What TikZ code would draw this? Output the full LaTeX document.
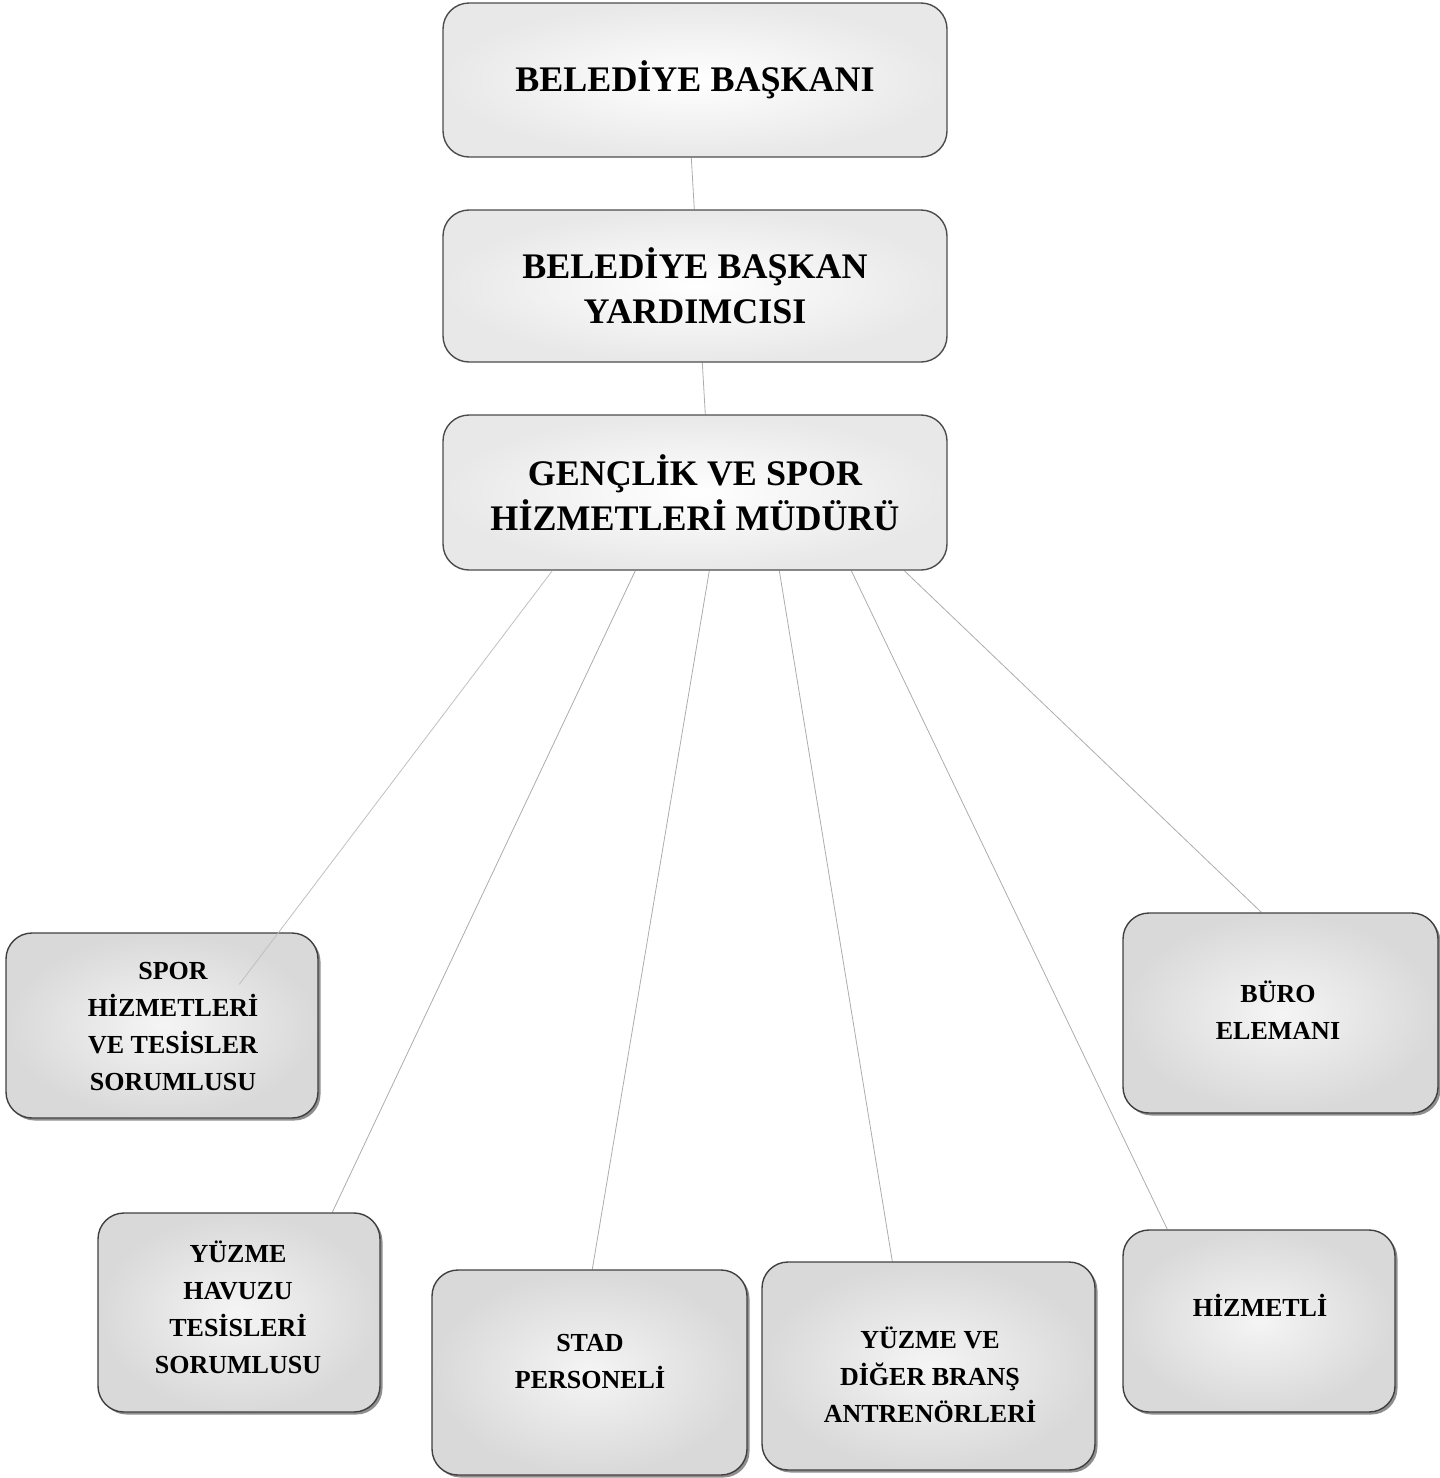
\documentclass[tikz,border=0pt]{standalone}
\usepackage{fontspec}
\setmainfont{Liberation Serif}
\usetikzlibrary{calc,shadows,backgrounds}
\begin{document}
\begin{tikzpicture}[x=1pt,y=-1pt,
  topbox/.style={draw=black!70, line width=1.4pt, rounded corners=26pt, inner color=white, outer color=gray!18, align=center, font=\fontsize{36}{45}\selectfont\bfseries},
  subbox/.style={draw=black!75, line width=1.4pt, rounded corners=26pt, inner color=gray!8, outer color=gray!30, align=center, font=\fontsize{26}{37}\selectfont\bfseries, drop shadow={shadow xshift=2.5pt, shadow yshift=-2.5pt, fill=black!55, opacity=0.8}},
  txt/.style={align=center, font=\fontsize{26}{37}\selectfont\bfseries, inner sep=0pt},
  conn/.style={draw=gray!65, line width=0.8pt}]
\useasboundingbox (0,0) rectangle (1440,1478);

\node[topbox, minimum width=504pt, minimum height=154pt] (bb) at (695,80) {BELEDİYE BAŞKANI};
\node[topbox, minimum width=504pt, minimum height=152pt] (by) at (695,286) {BELEDİYE BAŞKAN\\YARDIMCISI};
\node[topbox, minimum width=504pt, minimum height=155pt] (gs) at (695,492.5) {GENÇLİK VE SPOR\\HİZMETLERİ MÜDÜRÜ};

\node[subbox, minimum width=312pt, minimum height=185pt] (spor) at (162,1025.5) {};
\node[txt] (sport) at (173,1027) {SPOR\\HİZMETLERİ\\VE TESİSLER\\SORUMLUSU};

\node[subbox, minimum width=282pt, minimum height=199pt] (havuz) at (239,1312.5) {};
\node[txt] (havuzt) at (238,1307) {YÜZME\\HAVUZU\\TESİSLERİ\\SORUMLUSU};

\node[subbox, minimum width=315pt, minimum height=205pt] (stad) at (589.5,1372.5) {};
\node[txt] (stadt) at (590,1362) {STAD\\PERSONELİ};

\node[subbox, minimum width=333pt, minimum height=208pt] (antr) at (928.5,1366) {};
\node[txt] (antrt) at (930,1375) {YÜZME VE\\DİĞER BRANŞ\\ANTRENÖRLERİ};

\node[subbox, minimum width=272pt, minimum height=182pt] (hiz) at (1259,1321) {};
\node[txt] (hizt) at (1260,1305) {HİZMETLİ};

\node[subbox, minimum width=315pt, minimum height=200pt] (buro) at (1280.5,1013) {};
\node[txt] (burot) at (1278,1010) {BÜRO\\ELEMANI};

\begin{scope}[on background layer]
\draw[conn] ($(bb.south west)+(249,0)$) -- ($(by.north west)+(252,0)$);
\draw[conn] ($(by.south west)+(260,0)$) -- ($(gs.north west)+(263,0)$);
\draw[conn] ($(gs.south west)+(193,0)$) -- ($(havuz.north west)+(235,0)$);
\draw[conn] ($(gs.south west)+(267,0)$) -- ($(stad.north west)+(161,0)$);
\draw[conn] ($(gs.south west)+(337,0)$) -- ($(antr.north west)+(131,0)$);
\draw[conn] ($(gs.south west)+(409,0)$) -- ($(hiz.north west)+(45,0)$);
\draw[conn] ($(gs.south west)+(462,0)$) -- ($(buro.north west)+(139,0)$);
\end{scope}
\draw[conn, draw=gray!50] ($(gs.south west)+(110,0)$) -- ($(spor.north west)+(234,52)$);
\end{tikzpicture}
\end{document}
